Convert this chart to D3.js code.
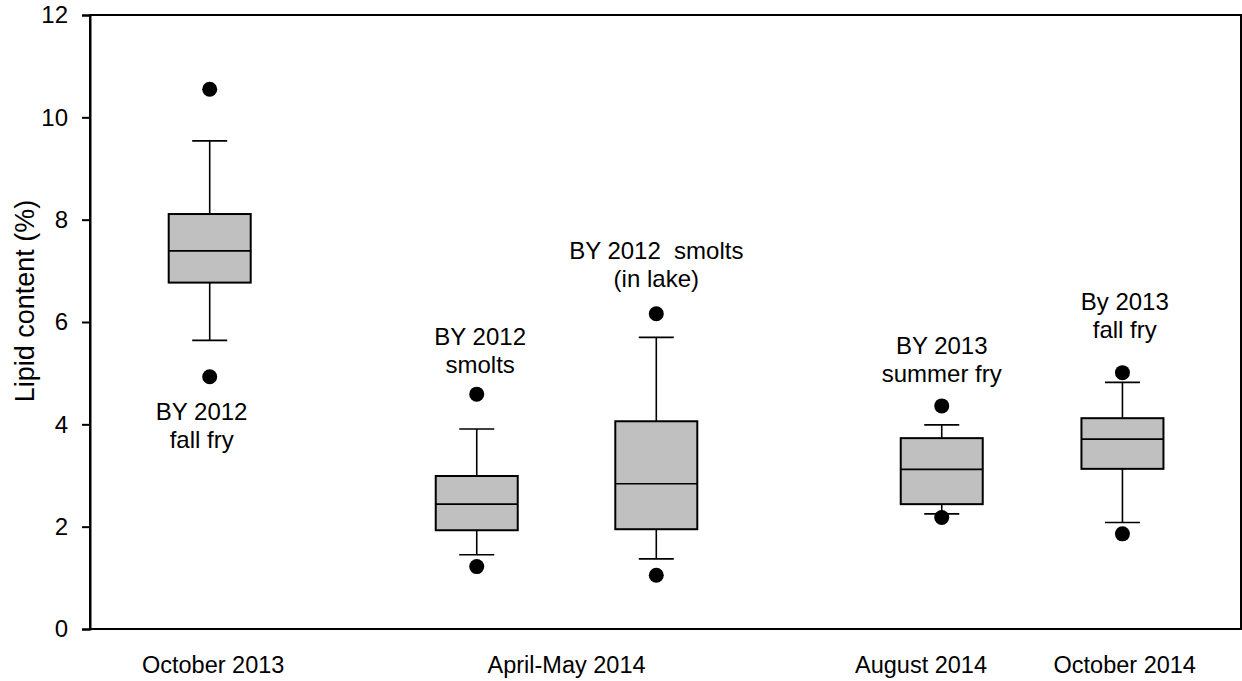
<!DOCTYPE html>
<html>
<head>
<meta charset="utf-8">
<script src="https://cdn.jsdelivr.net/npm/d3@7"></script>
<style>
  html, body { margin: 0; padding: 0; background: #fff; }
  svg { display: block; font-family: Arial, "Liberation Sans", sans-serif; }
</style>
</head>
<body>
<svg id="chart" width="1242" height="681"></svg>
<script>
// Box statistics per sample group (lipid content, %)
const groupPos   = [1.04, 3.36, 4.92, 7.40, 8.97];
const whiskerLow = [5.64, 1.45, 1.37, 2.25, 2.08];
const q1         = [6.77, 1.93, 1.95, 2.44, 3.13];
const median     = [7.39, 2.44, 2.84, 3.12, 3.71];
const q3         = [8.11, 2.99, 4.06, 3.73, 4.12];
const whiskerHigh= [9.54, 3.91, 5.70, 3.99, 4.82];
const outlierLow = [4.93, 1.22, 1.05, 2.18, 1.86];
const outlierHigh= [10.55, 4.59, 6.16, 4.36, 5.01];

// Group annotations: two lines each, anchored at (x, y) in data units
const noteLines1 = ["BY 2012", "BY 2012", "BY 2012  smolts", "BY 2013", "By 2013"];
const noteLines2 = ["fall fry", "smolts", "(in lake)", "summer fry", "fall fry"];
const noteX      = [0.97, 3.39, 4.92, 7.40, 8.99];
const noteY      = [4.08, 5.55, 7.23, 5.37, 6.23];

// Sampling period labels under the axis
const periodLabels = ["October 2013", "April-May 2014", "August 2014", "October 2014"];
const periodPos    = [1.07, 4.14, 7.22, 8.99];

const yTicks = [0, 2, 4, 6, 8, 10, 12];

const svg = d3.select("#chart");
const plotLeft = 90, plotRight = 1241, plotTop = 15, plotBottom = 629;

const x = d3.scaleLinear().domain([0, 10]).range([plotLeft, plotRight]);
const y = d3.scaleLinear().domain([0, 12]).range([plotBottom, plotTop]);

const boxHalf = 41, capHalf = 17.5;

// Frame
svg.append("rect")
  .attr("x", plotLeft).attr("y", plotTop)
  .attr("width", plotRight - plotLeft).attr("height", plotBottom - plotTop)
  .attr("fill", "none").attr("stroke", "#000").attr("stroke-width", 2);

// Y axis
const yAxis = svg.append("g")
  .attr("transform", `translate(${plotLeft},0)`)
  .call(d3.axisLeft(y).tickValues(yTicks).tickFormat(d3.format("d")).tickSize(8).tickPadding(14));
yAxis.select(".domain").attr("stroke-width", 2);
yAxis.selectAll(".tick line").attr("stroke-width", 2);
yAxis.selectAll(".tick text")
  .attr("font-size", 24).attr("fill", "#000")
  .attr("font-family", "Arial, 'Liberation Sans', sans-serif");

// Y axis title
svg.append("text")
  .attr("transform", `translate(34,301) rotate(-90)`)
  .attr("text-anchor", "middle")
  .attr("font-size", 27)
  .text("Lipid content (%)");

// Period labels
svg.selectAll("text.period").data(periodLabels).join("text")
  .attr("class", "period")
  .attr("x", (d, i) => x(periodPos[i]))
  .attr("y", 673)
  .attr("text-anchor", "middle")
  .attr("font-size", 23.5)
  .text(d => d);

// Box plots
const groups = svg.selectAll("g.box").data(groupPos).join("g").attr("class", "box");

groups.each(function(p, i) {
  const g = d3.select(this);
  const cx = x(p);
  // whiskers
  g.append("line").attr("x1", cx).attr("x2", cx)
    .attr("y1", y(q3[i])).attr("y2", y(whiskerHigh[i]))
    .attr("stroke", "#000").attr("stroke-width", 1.6);
  g.append("line").attr("x1", cx).attr("x2", cx)
    .attr("y1", y(q1[i])).attr("y2", y(whiskerLow[i]))
    .attr("stroke", "#000").attr("stroke-width", 1.6);
  // caps
  [whiskerHigh[i], whiskerLow[i]].forEach(v => {
    g.append("line").attr("x1", cx - capHalf).attr("x2", cx + capHalf)
      .attr("y1", y(v)).attr("y2", y(v))
      .attr("stroke", "#000").attr("stroke-width", 1.6);
  });
  // box
  g.append("rect")
    .attr("x", cx - boxHalf).attr("width", boxHalf * 2)
    .attr("y", y(q3[i])).attr("height", y(q1[i]) - y(q3[i]))
    .attr("fill", "#c0c0c0").attr("stroke", "#000").attr("stroke-width", 2);
  // median
  g.append("line").attr("x1", cx - boxHalf).attr("x2", cx + boxHalf)
    .attr("y1", y(median[i])).attr("y2", y(median[i]))
    .attr("stroke", "#000").attr("stroke-width", 1.6);
  // outliers
  [outlierHigh[i], outlierLow[i]].forEach(v => {
    g.append("circle").attr("cx", cx).attr("cy", y(v)).attr("r", 7.5).attr("fill", "#000");
  });
});

// Annotations
const notes = svg.selectAll("text.note").data(noteLines1).join("text")
  .attr("class", "note")
  .attr("text-anchor", "middle")
  .attr("font-size", 24)
  .style("white-space", "pre")
  .attr("x", (d, i) => x(noteX[i]))
  .attr("y", (d, i) => y(noteY[i]));
notes.append("tspan").attr("x", (d, i) => x(noteX[i])).attr("dy", 0).text(d => d);
notes.append("tspan").attr("x", (d, i) => x(noteX[i])).attr("dy", 28).text((d, i) => noteLines2[i]);
</script>
</body>
</html>
